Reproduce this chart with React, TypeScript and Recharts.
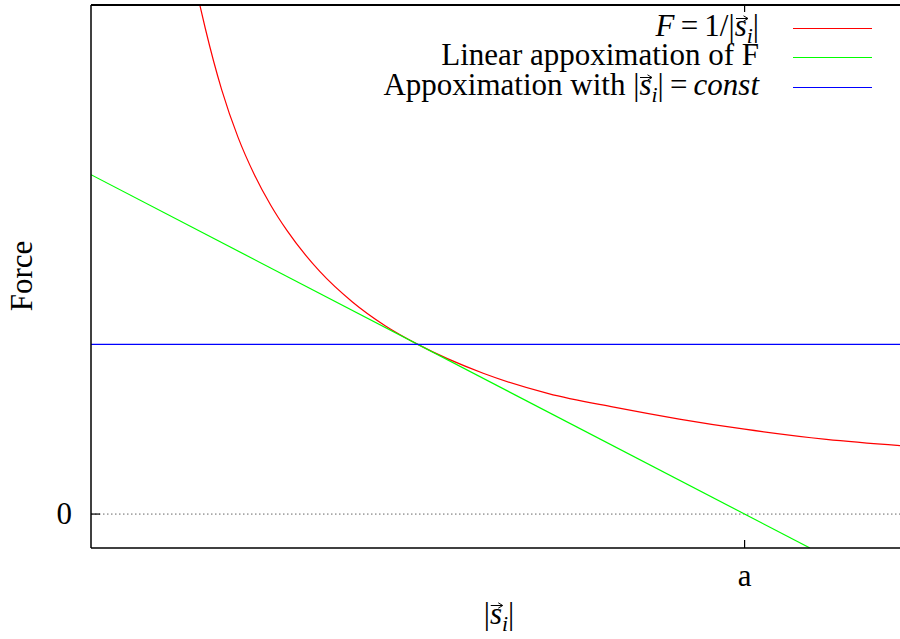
import React from 'react';
import { LineChart, Line, XAxis, YAxis, ReferenceLine, Legend } from 'recharts';

// |s_i| along the x axis (tick "a" sits at 2) and force values
const curveS = [0.333, 0.35, 0.375, 0.4, 0.45, 0.5, 0.55, 0.6, 0.7, 0.8, 0.9, 1.0, 1.2, 1.4, 1.6, 1.8, 2.0, 2.25, 2.5];
const curveF = [3.0, 2.86, 2.67, 2.5, 2.22, 2.0, 1.82, 1.67, 1.43, 1.25, 1.11, 1.0, 0.83, 0.71, 0.63, 0.56, 0.5, 0.44, 0.4];
const linearS = [0, 2.2];
const linearF = [2.0, -0.2];
const constS = [0, 2.5];
const constF = [1.0, 1.0];

const xTicks = [2];
const xTickLabels = ['a'];
const yTicks = [0];
const yTickLabels = ['0'];
const yMin = -0.2;
const yMax = 3;

const seriesNames = ['curve', 'linear', 'const'];
const seriesColors = ['#ff0000', '#00ff00', '#0000ff'];

const FONT = '"Liberation Serif", "DejaVu Serif", serif';
const FONT_SIZE = 31;

// chart layout
const CHART_W = 920;
const CHART_H = 639;
const MARGIN = { top: 5, right: 12, bottom: 0, left: 0 };
const X_AXIS_H = 91;
const Y_AXIS_W = 91;
const PLOT_H = CHART_H - MARGIN.top - MARGIN.bottom - X_AXIS_H;

const toRows = (xs: number[], ys: number[]) => xs.map((s, i) => ({ s, F: ys[i] }));
const curveData = toRows(curveS, curveF);
const linearData = toRows(linearS, linearF);
const constData = toRows(constS, constF);

// italic s with a small vector arrow drawn above it, then subscript i
const VecS = ({ top = 5 }: { top?: number }) => (
  <span>
    <span style={{ position: 'relative', display: 'inline-block' }}>
      <i>s</i>
      <svg
        width={13}
        height={7}
        style={{ position: 'absolute', left: 1, top, overflow: 'visible' }}
      >
        <line x1={0} y1={3.5} x2={11.5} y2={3.5} stroke="#000" strokeWidth={1} />
        <path d="M7.5 0.8 L12 3.5 L7.5 6.2" fill="none" stroke="#000" strokeWidth={1} />
      </svg>
    </span>
    <i style={{ fontSize: '0.7em', position: 'relative', top: '0.3em' }}>i</i>
  </span>
);

const Eq = () => <span style={{ margin: '0 0.2em' }}>=</span>;

const legendLabels: Record<string, React.ReactNode> = {
  curve: (
    <span>
      <i>F</i>
      <Eq />1/|<VecS top={4} />|
    </span>
  ),
  linear: <span>Linear appoximation of F</span>,
  const: (
    <span>
      Appoximation with |<VecS top={4} />|<Eq />
      <i>const</i>
    </span>
  ),
};

const rowCenters = [28, 57, 87];

const LegendBox = () => (
  <div style={{ position: 'relative', width: 900, height: 110, fontFamily: FONT, fontSize: FONT_SIZE, color: '#000' }}>
    {seriesNames.map((name, i) => (
      <React.Fragment key={name}>
        <div
          style={{
            position: 'absolute',
            right: 900 - 759,
            top: rowCenters[i] - 17,
            lineHeight: '29px',
            whiteSpace: 'nowrap',
          }}
        >
          {legendLabels[name]}
        </div>
        <div
          style={{
            position: 'absolute',
            left: 793,
            width: 79,
            top: rowCenters[i],
            height: 1,
            background: seriesColors[i],
          }}
        />
      </React.Fragment>
    ))}
  </div>
);

// bottom tick points into the plot; its mirror hangs from the top border
const BottomTick = (props: any) => {
  const { x, y, index } = props;
  const top = y - PLOT_H;
  return (
    <g>
      <line x1={x} y1={y} x2={x} y2={y - 8} stroke="#000" strokeWidth={1.2} />
      <line x1={x} y1={top} x2={x} y2={top + 7} stroke="#000" strokeWidth={1.2} />
      <text x={x} y={y + 38} textAnchor="middle" fontFamily={FONT} fontSize={FONT_SIZE} fill="#000">
        {xTickLabels[index]}
      </text>
    </g>
  );
};

const LeftTick = (props: any) => {
  const { x, y, index } = props;
  return (
    <g>
      <line x1={x} y1={y} x2={x + 9} y2={y} stroke="#000" strokeWidth={1.2} />
      <text x={x - 19} y={y + 10} textAnchor="end" fontFamily={FONT} fontSize={FONT_SIZE} fill="#000">
        {yTickLabels[index]}
      </text>
    </g>
  );
};

const App = () => {
  return (
    <div
      style={{
        position: 'absolute',
        left: 0,
        top: 0,
        width: 900,
        height: 639,
        overflow: 'hidden',
        background: '#fff',
        fontFamily: FONT,
      }}
    >
      <LineChart width={CHART_W} height={CHART_H} margin={MARGIN}>
        <XAxis
          xAxisId="bottom"
          type="number"
          dataKey="s"
          domain={[0, 2.5]}
          ticks={xTicks}
          interval={0}
          allowDataOverflow
          height={X_AXIS_H}
          axisLine={{ stroke: '#000', strokeWidth: 1.5 }}
          tickLine={false}
          tickSize={0}
          tickMargin={0}
          tick={BottomTick}
        />
        <YAxis
          yAxisId="left"
          type="number"
          domain={[yMin, yMax]}
          ticks={yTicks}
          interval={0}
          allowDataOverflow
          width={Y_AXIS_W}
          axisLine={{ stroke: '#000', strokeWidth: 1.5 }}
          tickLine={false}
          tickSize={0}
          tickMargin={0}
          tick={LeftTick}
        />
        <ReferenceLine xAxisId="bottom" yAxisId="left" y={0} stroke="#666" strokeDasharray="1.5 2.5" />
        <Line
          xAxisId="bottom"
          yAxisId="left"
          data={curveData}
          dataKey="F"
          name={seriesNames[0]}
          type="monotone"
          stroke={seriesColors[0]}
          strokeWidth={1.2}
          dot={false}
          isAnimationActive={false}
        />
        <Line
          xAxisId="bottom"
          yAxisId="left"
          data={linearData}
          dataKey="F"
          name={seriesNames[1]}
          type="linear"
          stroke={seriesColors[1]}
          strokeWidth={1.2}
          dot={false}
          isAnimationActive={false}
        />
        <Line
          xAxisId="bottom"
          yAxisId="left"
          data={constData}
          dataKey="F"
          name={seriesNames[2]}
          type="linear"
          stroke={seriesColors[2]}
          strokeWidth={1.2}
          dot={false}
          isAnimationActive={false}
        />
        <Legend
          layout="horizontal"
          verticalAlign="middle"
          align="center"
          content={() => <LegendBox />}
          wrapperStyle={{ left: 0, top: 0, width: 900, height: 110 }}
        />
      </LineChart>
      {/* top edge of the plot frame */}
      <div
        style={{
          position: 'absolute',
          left: Y_AXIS_W + MARGIN.left,
          top: MARGIN.top - 0.75,
          width: CHART_W - Y_AXIS_W - MARGIN.left - MARGIN.right,
          height: 1.5,
          background: '#000',
        }}
      />
      <div
        style={{
          position: 'absolute',
          left: 22,
          top: 276,
          transform: 'translate(-50%, -50%) rotate(-90deg)',
          fontSize: FONT_SIZE,
          whiteSpace: 'nowrap',
        }}
      >
        Force
      </div>
      <div
        style={{
          position: 'absolute',
          left: 499,
          top: 614,
          transform: 'translate(-50%, -50%)',
          fontSize: FONT_SIZE,
          whiteSpace: 'nowrap',
        }}
      >
        |<VecS top={6} />|
      </div>
    </div>
  );
};

export default App;
